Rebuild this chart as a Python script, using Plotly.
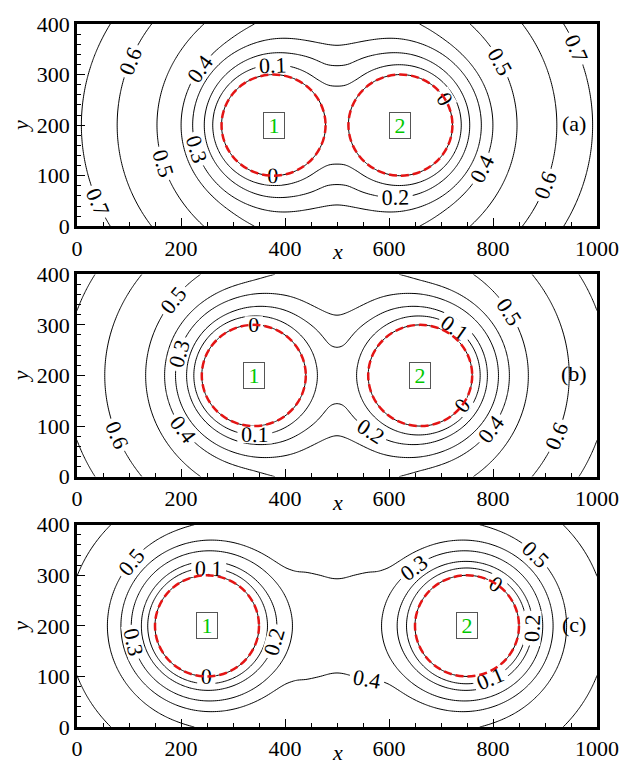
import numpy as np
import plotly.graph_objects as go
from plotly.subplots import make_subplots

# ---- configuration of the three cases -------------------------------------
panel_tags = ["(a)", "(b)", "(c)"]
centers_x = [[378, 622], [340, 660], [250, 750]]   # particle centres (x)
center_y = 200                                       # particle centres (y)
radius = 100                                         # particle radius
particle_ids = ["1", "2"]

# contour levels
level_start, level_end, level_step = 0.0, 0.7, 0.1

# radial profile of a single particle: distance from surface -> factor
profile_s = [0, 16, 26, 50, 70, 90, 120, 150, 200, 250, 300, 360, 420, 500, 700, 1200]
profile_w = [0, 0.125, 0.215, 0.345, 0.45, 0.53, 0.575, 0.615, 0.665, 0.73, 0.80,
             0.855, 0.89, 0.92, 0.95, 0.97]

x_ticks = [0, 200, 400, 600, 800, 1000]
y_ticks = [0, 100, 200, 300, 400]


def pchip(xk, yk, xq):
    xk = np.asarray(xk, float)
    yk = np.asarray(yk, float)
    h = np.diff(xk)
    delta = np.diff(yk) / h
    d = np.zeros_like(yk)
    for k in range(1, len(xk) - 1):
        if delta[k - 1] * delta[k] > 0:
            w1 = 2 * h[k] + h[k - 1]
            w2 = h[k] + 2 * h[k - 1]
            d[k] = (w1 + w2) / (w1 / delta[k - 1] + w2 / delta[k])
    d[0] = delta[0]
    d[-1] = 0.0
    xq = np.asarray(xq, float)
    idx = np.clip(np.searchsorted(xk, xq) - 1, 0, len(xk) - 2)
    t = (xq - xk[idx]) / h[idx]
    tc = np.clip(t, 0, 1)
    h00 = 2 * tc**3 - 3 * tc**2 + 1
    h10 = tc**3 - 2 * tc**2 + tc
    h01 = -2 * tc**3 + 3 * tc**2
    h11 = tc**3 - tc**2
    out = (h00 * yk[idx] + h10 * h[idx] * d[idx] + h01 * yk[idx + 1]
           + h11 * h[idx] * d[idx + 1])
    out = np.where(xq < xk[0], d[0] * (xq - xk[0]) + yk[0], out)
    out = np.where(xq > xk[-1], yk[-1], out)
    return out


gx = np.arange(0, 1001, 4.0)
gy = np.arange(0, 401, 4.0)
GX, GY = np.meshgrid(gx, gy)

# vertical placement of the three panels (fractions of the plot area)
domains = [[0.7123, 1.0], [0.3561, 0.644], [0.0, 0.2877]]
plot_h = 773 - 17 - 40

fig = make_subplots(rows=3, cols=1)
serif = "Liberation Serif, Times New Roman, DejaVu Serif, serif"

for i, cx in enumerate(centers_x):
    field = np.ones_like(GX)
    for c in cx:
        s = np.hypot(GX - c, GY - center_y) - radius
        field = field * pchip(profile_s, profile_w, s)

    fig.add_trace(
        go.Contour(
            x=gx, y=gy, z=field,
            contours=dict(start=level_start, end=level_end, size=level_step,
                          coloring="none", showlabels=True,
                          labelfont=dict(family=serif, size=22, color="black"),
                          labelformat=".1~f"),
            line=dict(color="black", width=1),
            showscale=False, hoverinfo="skip",
        ),
        row=i + 1, col=1,
    )

    xa = "x" if i == 0 else f"x{i + 1}"
    ya = "y" if i == 0 else f"y{i + 1}"
    for c, pid in zip(cx, particle_ids):
        fig.add_shape(type="circle", xref=xa, yref=ya,
                      x0=c - radius, x1=c + radius,
                      y0=center_y - radius, y1=center_y + radius,
                      line=dict(color="rgb(228,20,20)", width=2.5, dash="8px,4px"))
        fig.add_annotation(x=c, y=center_y, xref=xa, yref=ya, text=pid,
                           showarrow=False,
                           font=dict(family=serif, size=22, color="rgb(0,200,0)"),
                           bordercolor="#555", borderwidth=1, borderpad=1,
                           bgcolor="white", width=18, height=23)
    fig.add_annotation(x=955, y=203, xref=xa, yref=ya, text=panel_tags[i],
                       showarrow=False,
                       font=dict(family=serif, size=22, color="black"))
    # x-axis title placed just under the tick labels
    fig.add_annotation(x=0.5, xref="paper", y=domains[i][0] - 26.0 / plot_h,
                       yref="paper", text="<i>x</i>", showarrow=False,
                       yanchor="middle",
                       font=dict(family=serif, size=22, color="black"))

axis_common = dict(showgrid=False, zeroline=False, showline=True, linecolor="black",
                   linewidth=2.8, mirror=True, ticks="inside", ticklen=8,
                   tickcolor="black", tickwidth=1,
                   tickfont=dict(family=serif, size=22, color="black"))

for i in range(3):
    xkey = "xaxis" if i == 0 else f"xaxis{i + 1}"
    ykey = "yaxis" if i == 0 else f"yaxis{i + 1}"
    fig.layout[xkey].update(
        range=[0, 1000], tickvals=x_ticks, ticktext=[str(v) for v in x_ticks],
        minor=dict(dtick=50, ticks="inside", ticklen=4, tickcolor="black"),
        **axis_common)
    fig.layout[ykey].update(
        range=[0, 400], tickvals=y_ticks, ticktext=[str(v) for v in y_ticks],
        domain=domains[i],
        minor=dict(dtick=20, ticks="inside", ticklen=4, tickcolor="black"),
        title=dict(text="<i>y</i>", font=dict(family=serif, size=22, color="black"),
                   standoff=2),
        **axis_common)

fig.update_layout(
    width=633, height=773,
    margin=dict(l=77, r=36, t=17, b=40),
    paper_bgcolor="white", plot_bgcolor="white",
    font=dict(family=serif, color="black"),
    showlegend=False,
)

fig.write_html("out.html")
